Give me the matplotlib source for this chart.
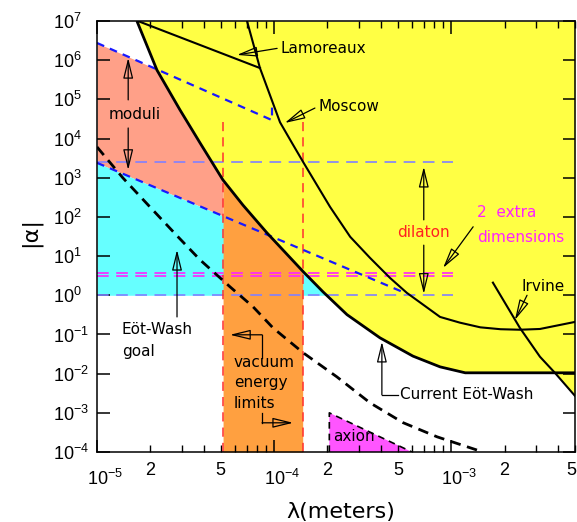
import numpy as np
import matplotlib
matplotlib.use("Agg")
import matplotlib.pyplot as plt
from matplotlib.ticker import FixedLocator, NullFormatter, FuncFormatter, NullLocator

# ---------------- data ----------------
# current Eot-Wash limit (thick solid black)
ew_lam = [1.68e-5, 2.18e-5, 2.94e-5, 3.82e-5, 5.14e-5, 6.67e-5, 9.12e-5, 1.46e-4,
          1.89e-4, 2.58e-4, 3.96e-4, 6.08e-4, 8.65e-4, 1.20e-3, 5.0e-3]
ew_alpha = [1e7, 5.6e5, 5.4e4, 7.7e3, 8.8e2, 2.0e2, 39, 4.0,
            1.22, 0.32, 0.082, 0.028, 0.0149, 0.0105, 0.0105]

# Moscow limit
mos_lam = [7.03e-5, 8.32e-5, 1.08e-4, 1.26e-4, 1.46e-4, 2.07e-4, 2.69e-4, 3.48e-4,
           4.51e-4, 5.62e-4, 8.65e-4, 1.12e-3, 1.46e-3, 1.90e-3, 2.44e-3, 3.17e-3, 5.0e-3]
mos_alpha = [1e7, 6.3e5, 2.6e4, 7.8e3, 2.5e3, 1.8e2, 31, 9.0,
             2.78, 1.15, 0.28, 0.20, 0.152, 0.136, 0.132, 0.138, 0.209]

# Lamoreaux limit
lam_lam = [1.70e-5, 8.32e-5]
lam_alpha = [1e7, 6.3e5]

# Irvine limit
irv_lam = [1.72e-3, 2.44e-3, 3.17e-3, 3.85e-3, 5.0e-3]
irv_alpha = [2.1, 0.148, 0.027, 0.0105, 2.7e-3]

# Eot-Wash goal (thick dashed black)
goal_lam = [1.00e-5, 1.40e-5, 1.99e-5, 2.83e-5, 3.82e-5, 5.64e-5, 7.60e-5, 9.86e-5,
            1.46e-4, 2.26e-4, 3.48e-4, 5.35e-4, 8.32e-4, 1.28e-3, 1.51e-3]
goal_alpha = [6.1e3, 9.9e2, 1.8e2, 33, 8.0, 1.64, 0.51, 0.147,
              0.034, 8.3e-3, 1.8e-3, 5.6e-4, 2.44e-4, 1.28e-4, 1.0e-4]

# moduli (blue dashed) lines
modhi_lam = [1.0e-5, 9.73e-5, 9.73e-5]
modhi_alpha = [2.75e6, 2.95e4, 7.2e4]
modlo_lam = [1.0e-5, 5.48e-4]
modlo_alpha = [2.4e3, 1.15]

# horizontal predictions
hline_lam = [1.0e-5, 1.02e-3]
dilaton_alpha = [2.5e3, 1.0]
extradim_alpha = [3.7, 3.1]

# vacuum energy limits (red dashed)
vac_lam = [5.15e-5, 1.45e-4]
vac_top = 2.95e4

# axion region
axion_lam = [2.05e-4, 2.05e-4, 6.0e-4]
axion_alpha = [1e-4, 1e-3, 1e-4]

XLIM = (1e-5, 5e-3)
YLIM = (1e-4, 1e7)

# ---------------- style ----------------
plt.rcParams['font.family'] = ['Liberation Sans', 'DejaVu Sans']
YELLOW = '#ffff44'
SALMON = '#ffa088'
CYAN = '#66ffff'
ORANGE = '#ffa040'
MAGENTA = '#ff55ff'
ANN = dict(family='DejaVu Sans', fontsize=11)

fig = plt.figure(figsize=(5.77, 5.22), dpi=100)
ax = fig.add_axes([97 / 577, 1 - 452 / 522, (575 - 97) / 577, (452 - 21) / 522])
ax.set_xscale('log')
ax.set_yscale('log')
ax.set_xlim(*XLIM)
ax.set_ylim(*YLIM)


def logi(grid, x, y, left=np.nan, right=np.nan):
    return 10 ** np.interp(np.log10(grid), np.log10(x), np.log10(y), left=left, right=right)


grid = np.union1d(np.logspace(-5, np.log10(5e-3), 2000), np.array(vac_lam + ew_lam + irv_lam))
ew = logi(grid, ew_lam, ew_alpha, left=np.inf)
irv = logi(grid, irv_lam, irv_alpha, left=np.inf)
hi = logi(grid, modhi_lam[:2], modhi_alpha[:2])
lo = logi(grid, modlo_lam, modlo_alpha, right=-np.inf)

# yellow excluded region
lower_y = np.minimum(ew, irv)
m = grid >= ew_lam[0]
ax.fill_between(grid[m], lower_y[m], YLIM[1], color=YELLOW, lw=0, zorder=1)
# salmon (moduli)
m = grid <= vac_lam[0]
ax.fill_between(grid[m], lo[m], np.minimum(hi, ew)[m], color=SALMON, lw=0, zorder=1)
# cyan (Eot-Wash goal reach)
up = np.minimum(np.nan_to_num(lo, neginf=0.0), ew)
m = up > dilaton_alpha[1]
ax.fill_between(grid[m], dilaton_alpha[1], up[m], color=CYAN, lw=0, zorder=1)
# orange (vacuum energy)
m = (grid >= vac_lam[0]) & (grid <= vac_lam[1])
ax.fill_between(grid[m], YLIM[0], ew[m], color=ORANGE, lw=0, zorder=1.5)
# axion
ax.fill(axion_lam, axion_alpha, color=MAGENTA, lw=0, zorder=1.5)
ax.plot(axion_lam, axion_alpha, color='black', lw=1.2, ls=(0, (4, 3)), zorder=3)

# horizontal dashed lines
ax.plot(hline_lam, [dilaton_alpha[0]] * 2, color='#8080ff', lw=1.2, ls=(0, (7, 4.5)), zorder=2)
ax.plot(hline_lam, [dilaton_alpha[1]] * 2, color='#8080ff', lw=1.2, ls=(0, (7, 4.5)), zorder=2)
for a in extradim_alpha:
    ax.plot(hline_lam, [a, a], color='#ff22ff', lw=1.2, ls=(0, (7, 4.5)), zorder=2)
# vacuum energy lines
for lv in vac_lam:
    ax.plot([lv, lv], [YLIM[0], vac_top], color='#ff3030', lw=1.1, ls=(0, (6, 4)), zorder=2.5)
# moduli lines
ax.plot(modhi_lam, modhi_alpha, color='#1818ff', lw=1.6, ls=(0, (3.5, 2.8)), zorder=2.5)
ax.plot(modlo_lam, modlo_alpha, color='#1818ff', lw=1.6, ls=(0, (3.5, 2.8)), zorder=2.5)

# limit curves
ax.plot(ew_lam, ew_alpha, color='black', lw=2.0, zorder=4, solid_capstyle='butt')
ax.plot(mos_lam, mos_alpha, color='black', lw=1.5, zorder=4)
ax.plot(lam_lam, lam_alpha, color='black', lw=1.5, zorder=4)
ax.plot(irv_lam, irv_alpha, color='black', lw=1.5, zorder=4)
ax.plot(goal_lam, goal_alpha, color='black', lw=2.0, ls=(0, (3.8, 2.4)), zorder=4)

# ---------------- annotations ----------------
AP = dict(arrowstyle='-|>,head_length=0.9,head_width=0.22', mutation_scale=14,
          lw=0.9, fc='none', ec='black', shrinkA=0, shrinkB=0)


def arrow(x0, y0, x1, y1):
    ax.annotate('', xy=(x1, y1), xytext=(x0, y0), arrowprops=AP, zorder=5)


ax.text(1.08e-4, 2.0e6, 'Lamoreaux', ha='left', va='center', **ANN)
arrow(1.04e-4, 2.0e6, 6.17e-5, 1.36e6)
ax.text(1.77e-4, 6.4e4, 'Moscow', ha='left', va='center', **ANN)
arrow(1.70e-4, 6.0e4, 1.15e-4, 2.5e4)
ax.text(1.64e-5, 4.0e4, 'moduli', ha='center', va='center', **ANN)
arrow(1.50e-5, 9.7e4, 1.50e-5, 1.14e6)
arrow(1.50e-5, 1.86e4, 1.50e-5, 1.58e3)
ax.text(6.93e-4, 41, 'dilaton', ha='center', va='center', color='#ff2020', **ANN)
arrow(7.0e-4, 84, 7.0e-4, 1.9e3)
arrow(7.0e-4, 19, 7.0e-4, 1.09)
ax.text(1.40e-3, 126, '2  extra', ha='left', va='center', color='#ff22ff', **ANN)
ax.text(1.40e-3, 29, 'dimensions', ha='left', va='center', color='#ff22ff', **ANN)
arrow(1.33e-3, 56, 9.0e-4, 5.0)
ax.text(2.51e-3, 1.64, 'Irvine', ha='left', va='center', **ANN)
arrow(2.68e-3, 1.0, 2.29e-3, 0.235)
ax.text(1.38e-5, 0.131, 'Eöt-Wash', ha='left', va='center', **ANN)
ax.text(1.38e-5, 0.036, 'goal', ha='left', va='center', **ANN)
arrow(2.83e-5, 0.28, 2.83e-5, 14.4)
ax.text(5.94e-5, 0.0189, 'vacuum', ha='left', va='center', **ANN)
ax.text(5.94e-5, 5.8e-3, 'energy', ha='left', va='center', **ANN)
ax.text(5.94e-5, 1.7e-3, 'limits', ha='left', va='center', **ANN)
ax.plot([8.55e-5, 8.55e-5], [0.0253, 0.098], color='black', lw=0.9, zorder=5)
arrow(8.55e-5, 0.098, 5.64e-5, 0.098)
ax.plot([8.55e-5, 8.55e-5], [1e-3, 5.56e-4], color='black', lw=0.9, zorder=5)
arrow(8.55e-5, 5.56e-4, 1.28e-4, 5.56e-4)
ax.text(5.14e-4, 3.0e-3, 'Current Eöt-Wash', ha='left', va='center', **ANN)
ax.plot([5.0e-4, 4.06e-4], [2.88e-3, 2.88e-3], color='black', lw=0.9, zorder=5)
arrow(4.06e-4, 2.88e-3, 4.06e-4, 0.065)
ax.text(2.15e-4, 2.44e-4, 'axion', ha='left', va='center', **ANN)

# ---------------- axes / ticks ----------------
for s in ax.spines.values():
    s.set_linewidth(1.1)
ydec = [10.0 ** k for k in range(-4, 8)]
ax.yaxis.set_major_locator(FixedLocator(ydec))
ax.yaxis.set_minor_locator(NullLocator())
ax.set_yticklabels([r'$\mathregular{10^{%d}}$' % k for k in range(-4, 8)], ha='left', fontsize=13)
ax.tick_params(axis='y', which='major', direction='in', length=9, width=1.1,
               left=True, right=True, pad=31.5)

xmaj = [1e-5, 1e-4, 1e-3]
xmin = [m * 10.0 ** e for e in (-5, -4, -3) for m in range(2, 10) if m * 10.0 ** e <= 5.0001e-3]
ax.xaxis.set_major_locator(FixedLocator(xmaj))
ax.xaxis.set_minor_locator(FixedLocator(xmin))
ax.xaxis.set_major_formatter(NullFormatter())


def minfmt(v, pos):
    if v >= XLIM[1] * 0.999:
        return ''
    mant = v / 10 ** np.floor(np.log10(v) + 1e-9)
    r = int(round(mant))
    return str(r) if r in (2, 5) else ''


ax.xaxis.set_minor_formatter(FuncFormatter(minfmt))
ax.tick_params(axis='x', which='major', direction='in', length=9, width=1.1, top=True, bottom=True)
ax.tick_params(axis='x', which='minor', direction='in', length=5, width=1.0, top=True, bottom=True,
               labelsize=13, pad=7)
for v in xmaj:
    e = int(round(np.log10(v)))
    ax.annotate(r'$\mathregular{10^{%d}}$' % e, xy=(v, 0), xycoords=('data', 'axes fraction'),
                xytext=(-10, -17), textcoords='offset pixels', ha='left', va='top', fontsize=13)
# last minor label at the right edge, kept inside the figure
ax.annotate('5', xy=(XLIM[1], 0), xycoords=('data', 'axes fraction'),
            xytext=(1, -10), textcoords='offset pixels', ha='right', va='top', fontsize=13)

fig.text(341 / 577, 1 - 512 / 522, 'λ(meters)', ha='center', va='center', fontsize=16,
         family='DejaVu Sans')
fig.text(30 / 577, 1 - 232 / 522, '|α|', ha='center', va='center', fontsize=16,
         rotation=90, family='DejaVu Sans')

fig.savefig('out.png', dpi=100)
